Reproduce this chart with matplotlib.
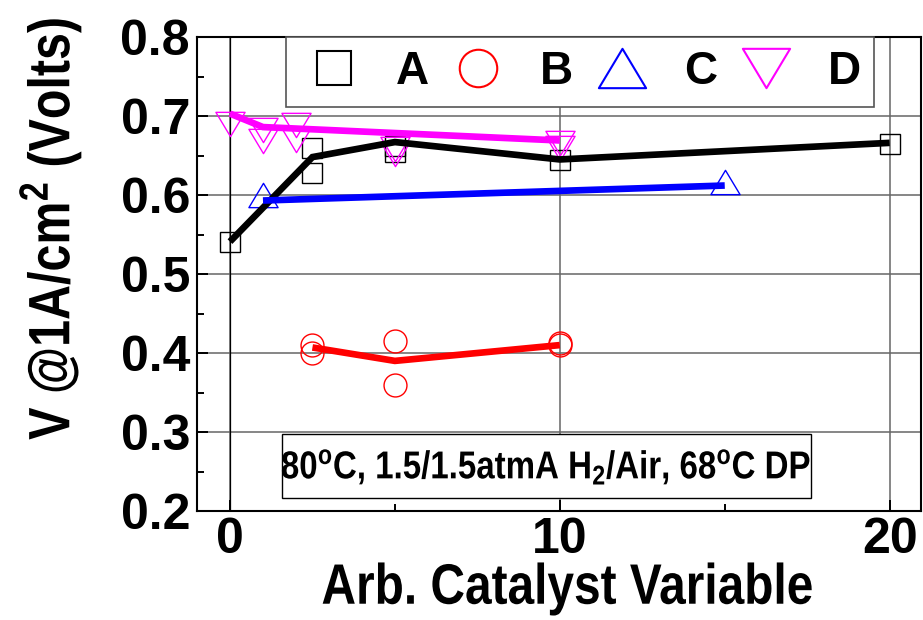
import matplotlib
matplotlib.use('Agg')
import matplotlib.pyplot as plt
from matplotlib.lines import Line2D
from matplotlib.path import Path
from matplotlib.patches import Rectangle
from matplotlib.patheffects import AbstractPathEffect
from matplotlib.transforms import Affine2D

plt.rcParams['font.family'] = ['Liberation Sans', 'DejaVu Sans']
plt.rcParams['mathtext.fontset'] = 'custom'
plt.rcParams['mathtext.rm'] = 'Liberation Sans:bold'
plt.rcParams['mathtext.it'] = 'Liberation Sans:bold'
plt.rcParams['mathtext.bf'] = 'Liberation Sans:bold'


class Squeeze(AbstractPathEffect):
    """Draw a text line compressed along its reading direction (narrow look)."""

    def __init__(self, factor, vertical=False):
        super().__init__()
        self.factor = factor
        self.vertical = vertical

    def draw_path(self, renderer, gc, tpath, affine, rgbFace=None):
        ext = tpath.get_extents(affine)
        if self.vertical:
            cy = 0.5 * (ext.y0 + ext.y1)
            squeeze = Affine2D().translate(0, -cy).scale(1, self.factor).translate(0, cy)
        else:
            cx = 0.5 * (ext.x0 + ext.x1)
            squeeze = Affine2D().translate(-cx, 0).scale(self.factor, 1).translate(cx, 0)
        renderer.draw_path(gc, tpath, affine + squeeze, rgbFace)


# individual cells (markers) and the averaged trend (thick line) per catalyst
a_x = [0, 2.5, 2.5, 5, 5, 10, 20]
a_y = [0.541, 0.660, 0.628, 0.662, 0.655, 0.644, 0.665]
a_fit_x = [0, 2.5, 5, 10, 20]
a_fit_y = [0.541, 0.648, 0.667, 0.645, 0.666]

b_x = [2.5, 2.5, 5, 5, 10, 10]
b_y = [0.410, 0.400, 0.415, 0.360, 0.413, 0.410]
b_fit_x = [2.5, 5, 10]
b_fit_y = [0.407, 0.390, 0.410]

c_x = [1, 15]
c_y = [0.600, 0.616]
c_fit_x = [1, 15]
c_fit_y = [0.593, 0.612]

d_x = [0, 1, 1, 2, 2, 5, 5, 10, 10]
d_y = [0.690, 0.682, 0.668, 0.689, 0.669, 0.658, 0.652, 0.666, 0.660]
d_fit_x = [0, 1, 10]
d_fit_y = [0.703, 0.686, 0.669]

labels = ['A', 'B', 'C', 'D']
colors = ['black', 'red', 'blue', 'magenta']

# flattened triangles (wider than tall)
tri_up = Path([(0, 1), (-1.2, -1), (1.2, -1), (0, 1)], closed=True)
tri_down = Path([(0, -1), (-1.2, 1), (1.2, 1), (0, -1)], closed=True)
markers = ['s', 'o', tri_up, tri_down]
data_ms = [14.5, 16.5, 21, 21]
legend_ms = [24.5, 27, 34, 34]

points = [(a_x, a_y), (b_x, b_y), (c_x, c_y), (d_x, d_y)]
trends = [(a_fit_x, a_fit_y), (b_fit_x, b_fit_y), (c_fit_x, c_fit_y), (d_fit_x, d_fit_y)]

fig = plt.figure(figsize=(9.23, 6.2), dpi=100)
ax = fig.add_axes([197 / 923, 1 - 511 / 620, 724 / 923, 474 / 620])

for (px, py), mk, ms, col in zip(points, markers, data_ms, colors):
    ax.plot(px, py, ls='none', marker=mk, ms=ms, mfc='none', mec=col, mew=1.0, zorder=3)
for (tx, ty), col in zip(trends, colors):
    ax.plot(tx, ty, color=col, lw=4.8, solid_capstyle='butt', solid_joinstyle='miter', zorder=4)

ax.set_xlim(-1, 20.95)
ax.set_ylim(0.2, 0.8)
ax.set_xticks([0, 10, 20])
ax.set_xticks([5, 15], minor=True)
ax.set_yticks([0.2, 0.3, 0.4, 0.5, 0.6, 0.7, 0.8])
ax.set_yticks([0.25, 0.35, 0.45, 0.55, 0.65, 0.75], minor=True)
ax.set_yticklabels(['0.2', '0.3', '0.4', '0.5', '0.6', '0.7', '0.8'])

ax.grid(True, which='major', color='#666666', lw=1.1, zorder=1)
ax.axvline(0, color='black', lw=0.9, zorder=2)

ax.tick_params(which='both', direction='in', width=1.4, top=False, right=False)
ax.tick_params(which='major', length=8)
ax.tick_params(which='minor', length=5)
ax.tick_params(axis='y', pad=5)
ax.tick_params(axis='x', pad=4)
for lab in ax.get_xticklabels() + ax.get_yticklabels():
    lab.set_fontsize(36)
    lab.set_fontweight('bold')
for sp in ax.spines.values():
    sp.set_linewidth(1.5)

ax.set_xlabel('Arb. Catalyst Variable', weight='bold', size=41,
              path_effects=[Squeeze(0.84)])
ax.xaxis.set_label_coords(0.512, -0.107)
ax.set_ylabel(r'V @1A/cm$^2$ (Volts)', weight='bold', size=42,
              path_effects=[Squeeze(0.83, vertical=True)])
ax.yaxis.set_label_coords(-0.157, 0.596)

handles = [Line2D([], [], ls='none', marker=mk, ms=ms, mfc='none', mec=col, mew=1.5)
           for mk, ms, col in zip(markers, legend_ms, colors)]
leg = ax.legend(handles, labels, loc='upper left', bbox_to_anchor=(0.123, 1.0), ncol=4,
                frameon=True, fancybox=False, borderaxespad=0, borderpad=0.28,
                handlelength=1.55, handletextpad=0.57, columnspacing=0.3,
                prop={'weight': 'bold', 'size': 33})
leg.get_frame().set_edgecolor('#555555')
leg.get_frame().set_linewidth(1.2)
leg.get_frame().set_alpha(1)

# conditions box
ax.add_patch(Rectangle((0.1174, 0.0274), 0.7307, 0.135, transform=ax.transAxes,
                       fc='white', ec='black', lw=1, zorder=6))
ax.text(0.482, 0.093, r'80$^\mathrm{o}$C, 1.5/1.5atmA H$_2$/Air, 68$^\mathrm{o}$C DP',
        transform=ax.transAxes, ha='center', va='center', weight='bold', size=28,
        path_effects=[Squeeze(0.85)], zorder=7)

fig.savefig('out.png', dpi=100)
